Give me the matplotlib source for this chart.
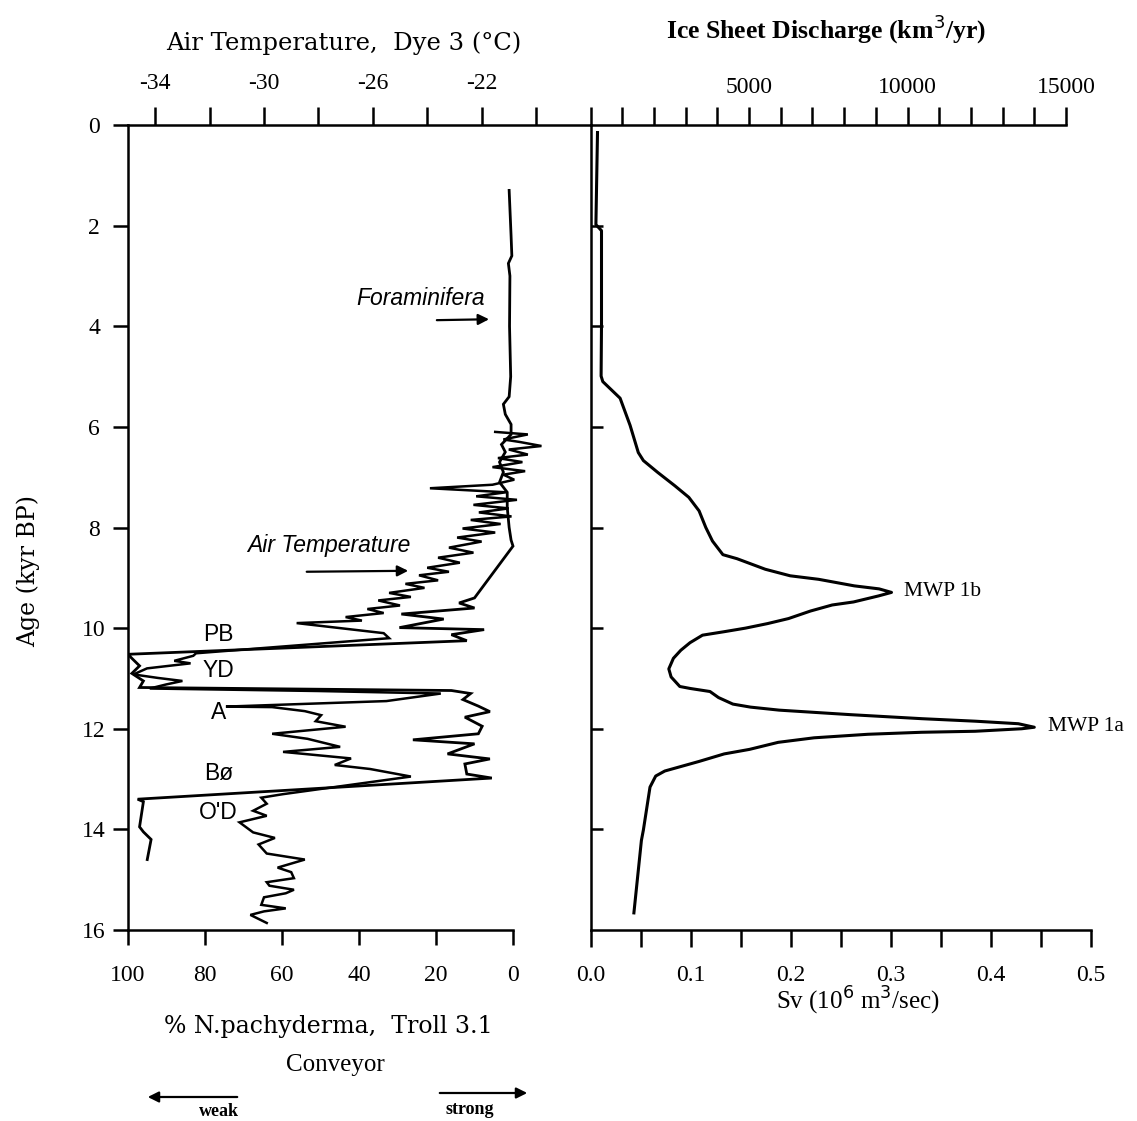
import matplotlib
matplotlib.use("Agg")
import matplotlib.pyplot as plt
from matplotlib.patches import FancyArrowPatch
import numpy as np

# ---------------- data ----------------
# Troll 3.1 foraminifera (% N. pachyderma) vs age (kyr BP)
foram_age = [1.3, 2.2, 2.6, 2.75, 3.0, 4.0, 5.0, 5.4, 5.55, 5.75, 5.95, 6.15, 6.35, 6.5, 6.7, 6.9,
             7.1, 7.3, 7.6, 8.0, 8.25, 8.37, 9.4, 9.5, 9.6, 9.72, 9.82, 9.99, 10.03, 10.13, 10.25,
             10.52, 10.6, 10.75, 10.9, 11.05, 11.18, 11.24, 11.3, 11.42, 11.55, 11.66, 11.77,
             11.95, 12.1, 12.22, 12.3, 12.5, 12.6, 12.7, 12.9, 12.98, 13.4, 13.45, 13.95, 14.05,
             14.2, 14.6]
foram_pct = [1.0, 0.5, 0.3, 1.2, 0.8, 0.9, 0.6, 1.0, 2.5, 2.0, 0.5, 0.5, 3.0, 2.0, 3.5, 2.5,
             3.5, 1.5, 1.5, 1.0, 0.5, 0.0, 10.0, 14.0, 10.0, 29.0, 18.0, 29.5, 7.5, 16.0, 12.0,
             100.0, 99.0, 97.0, 99.0, 96.0, 97.0, 16.0, 11.0, 13.0, 9.0, 6.0, 12.5,
             8.0, 9.0, 26.0, 10.0, 17.0, 6.0, 12.5, 12.0, 5.5, 97.5, 96.0, 97.0, 96.0,
             94.0, 95.0]

# Dye 3 air temperature (deg C) vs age (kyr BP)
temp_age = [6.1, 6.15, 6.25, 6.3, 6.38, 6.45, 6.55, 6.62, 6.7, 6.8, 6.88, 6.95, 7.05, 7.15,
            7.22, 7.3, 7.38, 7.45, 7.55, 7.62, 7.7, 7.78, 7.85, 7.93, 8.02, 8.1, 8.2, 8.28,
            8.4, 8.5, 8.6, 8.7, 8.8, 8.88, 8.95, 9.05, 9.12, 9.2, 9.3, 9.38, 9.45, 9.55, 9.62,
            9.7, 9.78, 9.85, 9.9, 10.1, 10.2, 10.5, 10.55, 10.65, 10.7, 10.8, 10.92, 10.99,
            11.05, 11.12, 11.2, 11.25, 11.3, 11.45, 11.56, 11.57, 11.65, 11.73, 11.85, 11.96,
            12.1, 12.2, 12.36, 12.46, 12.59, 12.72, 12.8, 12.95, 13.3, 13.37, 13.49, 13.63,
            13.73, 13.86, 14.06, 14.17, 14.3, 14.48, 14.6, 14.76, 14.85, 14.97, 15.05, 15.12,
            15.2, 15.27, 15.35, 15.5, 15.57, 15.63, 15.7, 15.86]
temp_c = [-21.5, -20.3, -21.2, -20.6, -19.8, -21.0, -20.3, -21.4, -20.5, -21.6, -20.4, -21.2,
          -20.8, -21.6, -23.9, -21.1, -22.2, -20.7, -22.3, -21.0, -22.1, -20.9, -22.4, -21.3,
          -22.7, -21.5, -22.9, -22.0, -23.2, -22.3, -23.6, -22.8, -24.0, -23.2, -24.3, -23.6,
          -24.8, -24.1, -25.4, -24.6, -25.8, -25.0, -26.2, -25.6, -27.0, -26.4, -28.8, -25.6,
          -25.4, -32.5, -32.6, -33.3, -32.7, -34.3, -34.8, -33.9, -33.0, -33.6, -34.2, -28.0,
          -23.5, -25.5, -31.4, -29.7, -28.5, -27.9, -28.1, -27.0, -29.7, -28.4, -27.2, -29.3,
          -26.8, -27.4, -26.1, -24.6, -29.3, -30.1, -29.9, -30.4, -29.9, -30.9, -30.4, -29.6,
          -30.2, -29.9, -28.5, -29.5, -29.0, -28.9, -29.9, -29.8, -28.9, -29.2, -30.0, -30.1,
          -29.2, -30.0, -30.5, -29.9]

# Ice-sheet discharge (Sv) vs age (kyr BP)
dis_age = [0.15, 1.98, 2.10, 3.97, 4.99, 5.10, 5.43, 5.97, 6.51, 6.67, 6.90, 7.17, 7.40, 7.67,
           8.00, 8.27, 8.54, 8.62, 8.83, 8.96, 9.03, 9.16, 9.22, 9.29, 9.36, 9.48, 9.54, 9.66,
           9.81, 9.91, 10.00, 10.07, 10.14, 10.29, 10.44, 10.60, 10.81, 10.97, 11.16, 11.20,
           11.26, 11.38, 11.51, 11.57, 11.63, 11.72, 11.80, 11.85, 11.90, 11.97, 12.00, 12.05,
           12.07, 12.11, 12.18, 12.27, 12.41, 12.50, 12.65, 12.75, 12.84, 12.94, 13.16, 14.01,
           14.22, 15.66]
dis_sv = [0.007, 0.0054, 0.011, 0.011, 0.0106, 0.0123, 0.0296, 0.0396, 0.0478, 0.0529, 0.0669,
          0.0843, 0.0983, 0.1086, 0.1153, 0.122, 0.1324, 0.1465, 0.1748, 0.1997, 0.2282, 0.2638,
          0.2886, 0.301, 0.288, 0.263, 0.2417, 0.220, 0.198, 0.177, 0.155, 0.134, 0.112, 0.0995,
          0.0903, 0.0829, 0.0783, 0.0806, 0.0893, 0.0999, 0.1195, 0.128, 0.1424, 0.160, 0.1886,
          0.26, 0.3314, 0.385, 0.4278, 0.4438, 0.4312, 0.3846, 0.331, 0.2773, 0.2236, 0.1877,
          0.159, 0.1337, 0.1085, 0.0905, 0.0743, 0.0652, 0.0595, 0.0529, 0.0509, 0.0434]

age_ticks = [0, 2, 4, 6, 8, 10, 12, 14, 16]
pct_ticks = [100, 80, 60, 40, 20, 0]
temp_ticks = [-34, -32, -30, -28, -26, -24, -22, -20]
temp_labels = ["-34", "", "-30", "", "-26", "", "-22", ""]
sv_ticks = [0.0, 0.05, 0.1, 0.15, 0.2, 0.25, 0.3, 0.35, 0.4, 0.45, 0.5]
sv_labels = ["0.0", "", "0.1", "", "0.2", "", "0.3", "", "0.4", "", "0.5"]
km_ticks = list(range(0, 15001, 1000))
km_labels = ["5000" if v == 5000 else "10000" if v == 10000 else "15000" if v == 15000 else ""
             for v in km_ticks]
KM3_PER_SV = 31536.0

# ---------------- layout ----------------
W, H = 1137, 1121
PT = 0.72  # points per pixel at 100 dpi
fig = plt.figure(figsize=(W / 100, H / 100), dpi=100)
fig.patch.set_facecolor("white")

def fx(x):
    return x / W

def fy(y):
    return 1 - y / H

SERIF = ["Liberation Serif", "DejaVu Serif"]
SERIF_W = ["DejaVu Serif"]
SANS = ["Liberation Sans", "DejaVu Sans"]

x0L, x1L, yT, yB = 128.0, 590.5, 125.0, 930.0
x1R = 1090.5
axL = fig.add_axes([fx(x0L), fy(yB), (x1L - x0L) / W, (yB - yT) / H])
axR = fig.add_axes([fx(x1L), fy(yB), (x1R - x1L) / W, (yB - yT) / H])

LW_SP = 1.8
TICKFS = 17

# ---- left panel: % N. pachyderma (bottom axis) ----
axL.set_ylim(16, 0)
axL.set_xlim(100, 100 - (x1L - x0L) / 3.85)
axL.plot(foram_pct, foram_age, color="black", lw=2.0, solid_joinstyle="miter")
for s in ["top", "right"]:
    axL.spines[s].set_visible(False)
for s in ["left", "bottom"]:
    axL.spines[s].set_linewidth(LW_SP)
axL.spines["bottom"].set_bounds(0, 100)
axL.set_xticks(pct_ticks)
axL.set_xticklabels([str(v) for v in pct_ticks], fontfamily=SERIF, fontsize=TICKFS)
axL.tick_params(axis="x", direction="out", length=15 * PT, width=LW_SP, pad=20 * PT)
axL.set_yticks(age_ticks)
axL.set_yticklabels([str(v) for v in age_ticks], fontfamily=SERIF, fontsize=TICKFS)
axL.tick_params(axis="y", direction="out", length=15 * PT, width=LW_SP, pad=19 * PT)
for lab in axL.get_yticklabels():
    lab.set_horizontalalignment("center")

# ---- left panel: temperature (top axis) ----
axT = axL.twiny()
axT.set_xlim(-35, -35 + (x1L - x0L) / 27.2)
axT.plot(temp_c, temp_age, color="black", lw=1.8, solid_joinstyle="miter")
for s in ["left", "right", "bottom"]:
    axT.spines[s].set_visible(False)
axT.spines["top"].set_linewidth(LW_SP)
axT.set_xticks(temp_ticks)
axT.set_xticklabels(temp_labels, fontfamily=SERIF, fontsize=TICKFS)
axT.tick_params(axis="x", direction="out", length=18 * PT, width=LW_SP, pad=13 * PT)

# ---- right panel: discharge in Sv (bottom axis) ----
axR.set_ylim(16, 0)
axR.set_xlim(0, 0.5)
axR.plot(dis_sv, dis_age, color="black", lw=2.2)
for s in ["top", "right"]:
    axR.spines[s].set_visible(False)
for s in ["left", "bottom"]:
    axR.spines[s].set_linewidth(LW_SP)
axR.set_xticks(sv_ticks)
axR.set_xticklabels(sv_labels, fontfamily=SERIF, fontsize=TICKFS)
axR.tick_params(axis="x", direction="out", length=17 * PT, width=LW_SP, pad=18 * PT)
axR.set_yticks(age_ticks[1:-1])
axR.set_yticklabels([])
axR.tick_params(axis="y", direction="in", length=12 * PT, width=LW_SP)

# ---- right panel: discharge in km3/yr (top axis) ----
axK = axR.twiny()
axK.set_xlim(0, 0.5 * KM3_PER_SV)
for s in ["left", "right", "bottom"]:
    axK.spines[s].set_visible(False)
axK.spines["top"].set_linewidth(LW_SP)
axK.spines["top"].set_bounds(0, 15000)
axK.set_xticks(km_ticks)
axK.set_xticklabels(km_labels, fontfamily=SERIF, fontsize=TICKFS)
axK.tick_params(axis="x", direction="out", length=18 * PT, width=LW_SP, pad=9 * PT)

for a in (axL, axT, axR, axK):
    a.patch.set_visible(False)

# ---------------- texts ----------------
fig.text(fx(344), fy(43), "Air Temperature,  Dye 3 (\u00b0C)", ha="center", va="center",
         fontfamily=SERIF_W, fontsize=17.5)
fig.text(fx(826), fy(29), "Ice Sheet Discharge (km$^3$/yr)", ha="center", va="center",
         fontfamily=SERIF, fontsize=18.5, fontweight="bold")
fig.text(fx(28), fy(571), "Age (kyr BP)", ha="center", va="center", rotation=90,
         fontfamily=SERIF_W, fontsize=17)
fig.text(fx(328), fy(1026), "% N.pachyderma,  Troll 3.1", ha="center", va="center",
         fontfamily=SERIF_W, fontsize=17)
fig.text(fx(335), fy(1065), "Conveyor", ha="center", va="center", fontfamily=SERIF, fontsize=18)
fig.text(fx(219), fy(1112), "weak", ha="center", va="center", fontfamily=SERIF, fontsize=13,
         fontweight="bold")
fig.text(fx(470), fy(1109), "strong", ha="center", va="center", fontfamily=SERIF, fontsize=13,
         fontweight="bold")
fig.text(fx(858), fy(1001), "Sv (10$^6$ m$^3$/sec)", ha="center", va="center",
         fontfamily=SERIF, fontsize=18)

arrow_kw = dict(arrowstyle="-|>", mutation_scale=16, lw=1.6, color="black")
fig.add_artist(FancyArrowPatch((fx(240), fy(1097)), (fx(145), fy(1097)),
                               transform=fig.transFigure, **arrow_kw))
fig.add_artist(FancyArrowPatch((fx(437), fy(1093)), (fx(530), fy(1093)),
                               transform=fig.transFigure, **arrow_kw))

# left panel annotations (data coords: % axis, age)
axL.text(24, 3.45, "Foraminifera", ha="center", va="center", fontfamily=SANS,
         fontstyle="italic", fontsize=16.5)
axL.annotate("", xy=(5.5, 3.86), xytext=(20.5, 3.88), arrowprops=arrow_kw)
axL.text(47.9, 8.36, "Air Temperature", ha="center", va="center", fontfamily=SANS,
         fontstyle="italic", fontsize=16.5)
axL.annotate("", xy=(26.5, 8.86), xytext=(54.3, 8.88), arrowprops=arrow_kw)
for lab, a in [("PB", 10.12), ("YD", 10.85), ("A", 11.67), ("B\u00f8", 12.88), ("O'D", 13.67)]:
    axL.text(76.5, a, lab, ha="center", va="center", fontfamily=SANS, fontsize=16.5)

axR.text(0.313, 9.27, "MWP 1b", ha="left", va="center", fontfamily=SERIF, fontsize=15.5)
axR.text(0.457, 11.95, "MWP 1a", ha="left", va="center", fontfamily=SERIF, fontsize=15.5)

fig.savefig("out.png", dpi=100, facecolor="white")
